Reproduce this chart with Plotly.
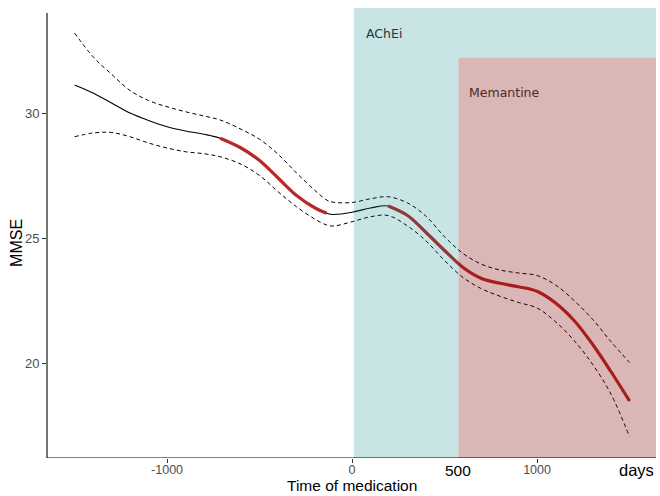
import plotly.graph_objects as go

# ---- data ----
days = [-1500, -1400, -1300, -1200, -1100, -1000, -900, -800, -713, -600, -500,
        -400, -300, -200, -137, -100, 0, 100, 195, 300, 400, 500, 600, 700, 800,
        900, 1000, 1100, 1200, 1300, 1400, 1500]
fit = [31.12, 30.8, 30.4, 30.0, 29.7, 29.45, 29.28, 29.15, 28.99, 28.6, 28.1,
       27.4, 26.7, 26.2, 25.99, 25.94, 26.03, 26.2, 26.28, 25.9, 25.22, 24.5, 23.82,
       23.38, 23.19, 23.05, 22.87, 22.4, 21.7, 20.75, 19.65, 18.48]
upper = [33.2, 32.25, 31.55, 30.9, 30.5, 30.25, 30.05, 29.88, 29.72, 29.35, 28.95,
         28.35, 27.6, 26.9, 26.52, 26.43, 26.42, 26.57, 26.65, 26.4, 25.87, 25.05, 24.38,
         23.95, 23.72, 23.6, 23.5, 23.12, 22.5, 21.75, 20.85, 20.02]
lower = [29.05, 29.2, 29.22, 29.05, 28.8, 28.6, 28.45, 28.37, 28.25, 27.95, 27.5,
         26.85, 26.25, 25.75, 25.52, 25.48, 25.65, 25.85, 25.9, 25.48, 24.88, 24.1, 23.42,
         22.97, 22.67, 22.42, 22.2, 21.65, 20.9, 19.95, 18.75, 17.05]
red_segments = [(-713, -137), (195, 1500)]
ache_start = 10
mem_start = 575
mem_top = 32.21
x_ticks = [-1000, 0, 1000]
x_ticktext = ["-1000", "0", "1000"]
y_ticks = [20, 25, 30]

XR = [-1649, 1643]
YR = [16.2, 34.2]

fig = go.Figure()

dash_style = dict(color="black", width=1, dash="4px,3px", shape="spline", smoothing=1)
fig.add_trace(go.Scatter(x=days, y=upper, mode="lines", line=dash_style, hoverinfo="skip"))
fig.add_trace(go.Scatter(x=days, y=lower, mode="lines", line=dash_style, hoverinfo="skip"))
fig.add_trace(go.Scatter(x=days, y=fit, mode="lines",
                         line=dict(color="black", width=1.1, shape="spline", smoothing=1),
                         hoverinfo="skip"))
for a, b in red_segments:
    xs = [d for d in days if a <= d <= b]
    ys = [f for d, f in zip(days, fit) if a <= d <= b]
    fig.add_trace(go.Scatter(x=xs, y=ys, mode="lines",
                             line=dict(color="#b82828", width=3.2, shape="spline", smoothing=1),
                             hoverinfo="skip"))

teal = "rgba(0,128,128,0.21)"
maroon = "rgba(128,0,0,0.285)"
shapes = [
    dict(type="rect", xref="x", yref="y", x0=ache_start, x1=mem_start, y0=YR[0], y1=YR[1],
         fillcolor=teal, line=dict(width=0), layer="above"),
    dict(type="rect", xref="x", yref="y", x0=mem_start, x1=XR[1], y0=mem_top, y1=YR[1],
         fillcolor=teal, line=dict(width=0), layer="above"),
    dict(type="rect", xref="x", yref="y", x0=mem_start, x1=XR[1], y0=YR[0], y1=mem_top,
         fillcolor=maroon, line=dict(width=0), layer="above"),
    # axis lines (theme_classic style)
    dict(type="line", xref="paper", yref="y", x0=0, x1=0, y0=YR[0], y1=34.0,
         line=dict(color="black", width=1.1), layer="above"),
    dict(type="line", xref="paper", yref="y", x0=0, x1=1, y0=YR[0], y1=YR[0],
         line=dict(color="black", width=1.1), layer="above"),
]

annotations = [
    dict(text="AChEi", x=65, y=33.2, xref="x", yref="y", xanchor="left", yanchor="middle",
         showarrow=False, font=dict(family="DejaVu Sans", size=12.5, color="#1f3838")),
    dict(text="Memantine", x=621, y=30.84, xref="x", yref="y", xanchor="left", yanchor="middle",
         showarrow=False, font=dict(family="DejaVu Sans", size=12.5, color="#4a2a2a")),
    dict(text="500", x=mem_start, y=-0.028, xref="x", yref="paper", xanchor="center",
         yanchor="middle", showarrow=False,
         font=dict(family="Liberation Sans, Arial", size=15.5, color="black")),
    dict(text="days", x=1535, y=-0.026, xref="x", yref="paper", xanchor="center",
         yanchor="middle", showarrow=False,
         font=dict(family="Liberation Sans, Arial", size=16.5, color="black")),
    dict(text="Time of medication", x=0.5, y=-0.0844, xref="paper", yref="paper",
         xanchor="center", yanchor="bottom", showarrow=False,
         font=dict(family="Liberation Sans, Arial", size=15.5, color="black")),
    dict(text="MMSE", x=-0.0493, y=0.478, xref="paper", yref="paper", textangle=-90,
         xanchor="center", yanchor="middle", showarrow=False,
         font=dict(family="Liberation Sans, Arial", size=16, color="black")),
]

fig.update_layout(
    width=660, height=496,
    margin=dict(l=47, r=4, t=8, b=38),
    paper_bgcolor="white", plot_bgcolor="white",
    showlegend=False,
    shapes=shapes, annotations=annotations,
    xaxis=dict(range=XR, tickvals=x_ticks, ticktext=x_ticktext, ticks="outside",
               ticklen=4, tickcolor="#333333", tickwidth=1, showgrid=False, zeroline=False,
               showline=False, ticklabelstandoff=-4,
               tickfont=dict(family="Liberation Sans, Arial", size=12.5, color="#4d4d4d")),
    yaxis=dict(range=YR, tickvals=y_ticks, ticks="outside", ticklen=4, tickcolor="#333333",
               tickwidth=1, showgrid=False, zeroline=False, showline=False,
               tickfont=dict(family="Liberation Sans, Arial", size=13, color="#4d4d4d")),
)

fig.write_html("out.html")
